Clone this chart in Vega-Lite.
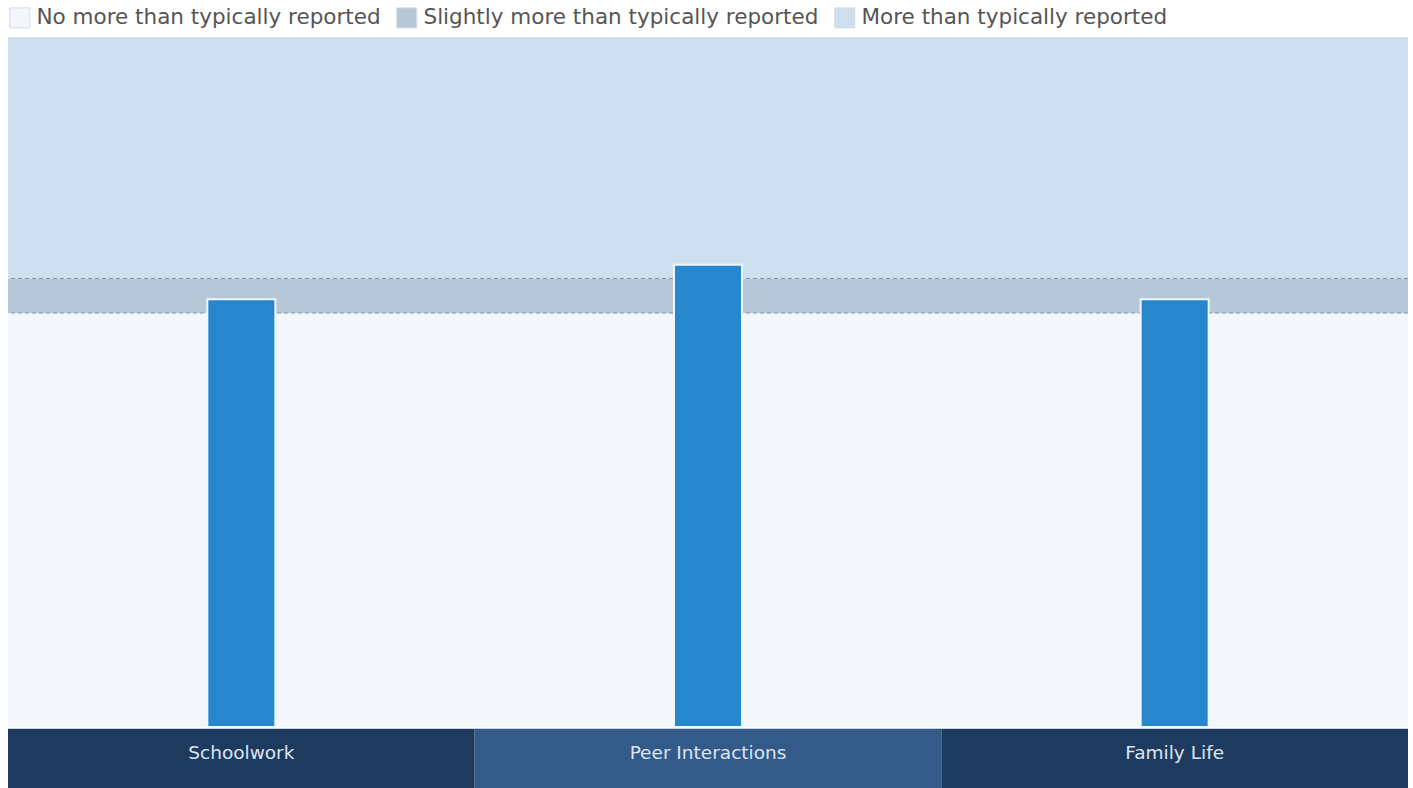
{
  "$schema": "https://vega.github.io/schema/vega-lite/v6.json",
  "padding": {"left": 7, "top": 7, "right": 6, "bottom": 0},
  "background": "#ffffff",
  "config": {"view": {"stroke": null}, "font": "DejaVu Sans"},
  "datasets": {
    "bands": [
      {"band": "No more than typically reported", "lo": 0, "hi": 60},
      {"band": "Slightly more than typically reported", "lo": 60, "hi": 65},
      {"band": "More than typically reported", "lo": 65, "hi": 100}
    ],
    "scores": [
      {"domain": "Schoolwork", "score": 62},
      {"domain": "Peer Interactions", "score": 67},
      {"domain": "Family Life", "score": 62}
    ],
    "cuts": [{"cut": 60}, {"cut": 65}]
  },
  "spacing": 0,
  "resolve": {"scale": {"color": "independent"}, "legend": {"color": "independent"}},
  "vconcat": [
    {
      "width": 1400,
      "height": 690,
      "layer": [
        {
          "data": {"name": "bands"},
          "mark": {"type": "rect"},
          "encoding": {
            "y": {"field": "lo", "type": "quantitative", "scale": {"domain": [0, 100], "nice": false, "zero": true}, "axis": null},
            "y2": {"field": "hi"},
            "color": {
              "field": "band", "type": "nominal",
              "scale": {
                "domain": ["No more than typically reported", "Slightly more than typically reported", "More than typically reported"],
                "range": ["#f3f7fb", "#b6c7d7", "#cddfee"]
              },
              "legend": {
                "title": null, "orient": "none", "legendX": 1, "legendY": -30,
                "direction": "horizontal", "symbolType": "square", "symbolSize": 400,
                "symbolStrokeColor": "#d5dce4", "symbolStrokeWidth": 1, "symbolOpacity": 1,
                "labelFontSize": 21.5, "labelColor": "#555555", "labelOffset": 6,
                "columnPadding": 13, "labelLimit": 600
              }
            }
          }
        },
        {
          "data": {"name": "cuts"},
          "mark": {"type": "rule", "strokeDash": [4, 3], "color": "#8292a4", "strokeWidth": 1},
          "encoding": {"y": {"field": "cut", "type": "quantitative"}}
        },
        {
          "data": {"name": "scores"},
          "mark": {"type": "bar", "width": 68, "color": "#2787cc", "stroke": "#f0f8ff", "strokeWidth": 2},
          "encoding": {
            "x": {"field": "domain", "type": "nominal", "sort": null, "scale": {"paddingInner": 0, "paddingOuter": 0}, "axis": null},
            "y": {"field": "score", "type": "quantitative"}
          }
        }
      ]
    },
    {
      "width": 1400,
      "height": 61,
      "data": {"name": "scores"},
      "encoding": {
        "x": {"field": "domain", "type": "nominal", "sort": null, "scale": {"paddingInner": 0, "paddingOuter": 0}, "axis": null}
      },
      "layer": [
        {
          "mark": {"type": "rect"},
          "encoding": {
            "color": {
              "field": "domain", "type": "nominal",
              "scale": {"domain": ["Schoolwork", "Peer Interactions", "Family Life"], "range": ["#1f3a5f", "#335a88", "#1f3a5f"]},
              "legend": null
            }
          }
        },
        {
          "mark": {"type": "rule", "color": "#c9d3dd", "strokeWidth": 1},
          "encoding": {"x": {"value": 0}, "x2": {"value": 1400}, "y": {"value": 0.5}}
        },
        {
          "mark": {"type": "text", "fontSize": 18.5, "color": "#dbe6f2", "dy": -6},
          "encoding": {"text": {"field": "domain"}}
        }
      ]
    }
  ]
}
